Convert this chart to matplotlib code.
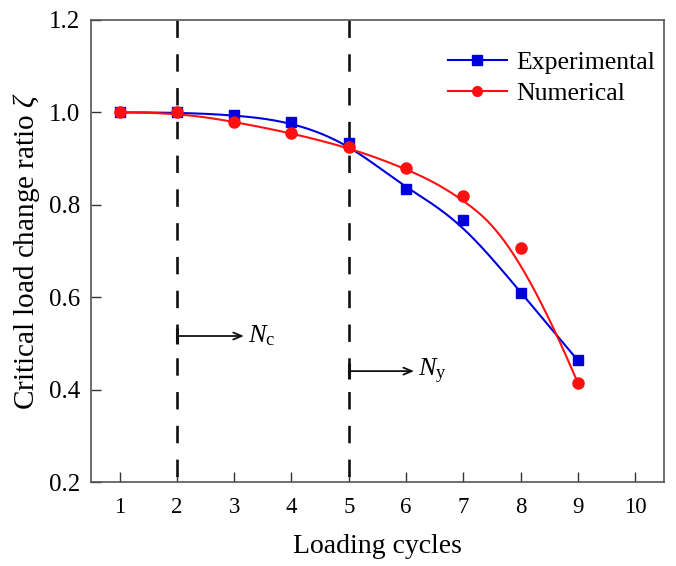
import numpy as np
import matplotlib
matplotlib.use("Agg")
import matplotlib.pyplot as plt

plt.rcParams['font.family'] = ['Liberation Serif', 'DejaVu Serif']
plt.rcParams['mathtext.fontset'] = 'custom'
plt.rcParams['mathtext.rm'] = 'Liberation Serif'
plt.rcParams['mathtext.it'] = 'Liberation Serif:italic'

cycles = [1, 2, 3, 4, 5, 6, 7, 8, 9]
experimental = [1.000, 1.000, 0.995, 0.980, 0.933, 0.834, 0.766, 0.610, 0.463]
numerical = [1.000, 1.000, 0.980, 0.955, 0.924, 0.879, 0.819, 0.706, 0.414]
xticks = [1, 2, 3, 4, 5, 6, 7, 8, 9, 10]
yticks = [0.2, 0.4, 0.6, 0.8, 1.0, 1.2]
marker_cycles = [2, 5]


def bspline(xs, ys, n=400):
    """Clamped uniform cubic B-spline using data points as control points."""
    P = np.column_stack([xs, ys]).astype(float)
    k = 3
    m = len(P)
    inner = np.arange(1, m - k)
    knots = np.concatenate([np.zeros(k + 1), inner, np.full(k + 1, m - k)])
    t = np.linspace(0, m - k, n)
    t[-1] -= 1e-9

    def N(i, p, t):
        if p == 0:
            return ((knots[i] <= t) & (t < knots[i + 1])).astype(float)
        a = np.zeros_like(t)
        d1 = knots[i + p] - knots[i]
        if d1 > 0:
            a += (t - knots[i]) / d1 * N(i, p - 1, t)
        d2 = knots[i + p + 1] - knots[i + 1]
        if d2 > 0:
            a += (knots[i + p + 1] - t) / d2 * N(i + 1, p - 1, t)
        return a

    B = np.array([N(i, k, t) for i in range(m)])
    C = B.T @ P
    return C[:, 0], C[:, 1]


fig = plt.figure(figsize=(6.76, 5.66), dpi=100)
ax = fig.add_axes([0.1346, 0.1484, 0.8474, 0.8163])

blue = '#0000dd'
red = '#ff1010'

bx, by = bspline(cycles, experimental)
rx, ry = bspline(cycles, numerical)
ax.plot(bx, by, color=blue, lw=1.5, zorder=3)
ax.plot(rx, ry, color=red, lw=1.5, zorder=3)
ax.plot(cycles, experimental, 's', color=blue, ms=7.5, zorder=4)
ax.plot(cycles, numerical, 'o', color=red, ms=8, zorder=5)

# legend proxies
ax.plot([], [], color=blue, lw=1.5, marker='s', ms=6.5, label='Experimental')
ax.plot([], [], color=red, lw=1.5, marker='o', ms=7, label='Numerical')

ylo, yhi = 0.2, 1.2
for xv in marker_cycles:
    ax.plot([xv, xv], [yhi, ylo], color='#111111', lw=1.9, dashes=(6.6, 6.2),
            solid_capstyle='butt', dash_capstyle='butt', zorder=2)

arrows = [(2, 3.17, 0.516, r'$N_\mathrm{c}$'), (5, 6.14, 0.440, r'$N_\mathrm{y}$')]
for x0, x1, yv, lab in arrows:
    ax.annotate('', xy=(x1, yv), xytext=(x0, yv),
                arrowprops=dict(arrowstyle='->,head_length=0.6,head_width=0.25',
                                color='#111111', lw=1.3, shrinkA=0, shrinkB=0))
    ax.plot([x0], [yv], marker='|', ms=11, mew=2.2, color='#111111', zorder=3)
    ax.text(x1 + 0.07, yv, lab, fontsize=19, va='center', ha='left')

ax.set_xlim(0.5, 10.5)
ax.set_ylim(ylo, yhi)
ax.set_xticks(xticks)
ax.set_xticklabels([str(v) for v in xticks])
ax.set_yticks(yticks)
ax.set_yticklabels([f'{v:.1f}' for v in yticks])
ax.tick_params(direction='in', length=7, width=1.0, color='#333333')
ax.tick_params(axis='x', labelsize=16.5, pad=11)
ax.tick_params(axis='y', labelsize=18, pad=8)
for s in ax.spines.values():
    s.set_color('#555555')
    s.set_linewidth(1.2)

ax.set_xlabel('Loading cycles', fontsize=20, labelpad=11)
ax.set_ylabel(r'Critical load change ratio $\mathit{\zeta}$', fontsize=21, labelpad=5)

ax.legend(loc='upper right', bbox_to_anchor=(0.984, 0.933), frameon=False, fontsize=18.5,
          handlelength=2.3, handletextpad=0.35, labelspacing=0.3,
          borderpad=0, borderaxespad=0)

fig.savefig('out.png', dpi=100)
